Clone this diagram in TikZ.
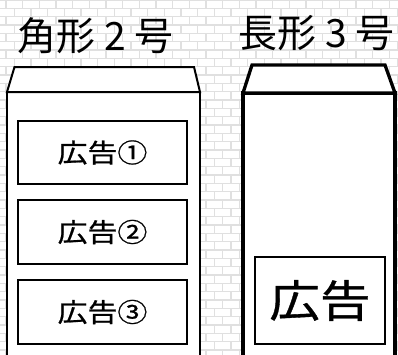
\documentclass[tikz,border=0pt]{standalone}
\usepackage{fontspec}
\newfontfamily\jpfont{Noto Sans CJK JP}
\newfontfamily\jpmed{Noto Sans CJK JP}[FakeBold=0.8,FakeStretch=1.15]
\begin{document}
\begin{tikzpicture}[x=1pt,y=-1pt,
  brick/.style={draw=black!12,line width=1.3pt},
  envA/.style={draw=black,fill=white,line width=2pt,line join=miter},
  envB/.style={draw=black,fill=white,line width=3.3pt,line join=miter},
  adbox/.style={draw=black,fill=white,line width=1.5pt},
  adboxB/.style={draw=black,fill=white,line width=2pt},
  title/.style={font=\jpfont\fontsize{39}{43}\selectfont,inner sep=0pt},
  adlabel/.style={font=\jpmed\fontsize{26}{30}\selectfont,inner sep=0pt},
  adlabelB/.style={font=\jpmed\fontsize{44}{48}\selectfont,inner sep=0pt}]
\useasboundingbox (0,0) rectangle (398,354);
\fill[white] (0,0) rectangle (398,354);
% brick background
\begin{scope}
\clip (0,0) rectangle (398,354);
\foreach \r in {0,...,43} \draw[brick] (0,{\r*8.333}) -- (398,{\r*8.333});
\foreach \r in {0,2,...,42} \foreach \c in {-1,...,24}
  \draw[brick] ({6+\c*16.667},{\r*8.333}) -- ++(0,8.333);
\foreach \r in {1,3,...,43} \foreach \c in {-1,...,24}
  \draw[brick] ({14.33+\c*16.667},{\r*8.333}) -- ++(0,8.333);
\end{scope}
% left envelope
\fill[white] (7,92) rectangle (200,360);
\draw[envA] (7,360) -- (7,92) -- (200,92) -- (200,360);
\draw[envA] (7,92) -- (14.5,67) -- (194,67) -- (200,92) -- cycle;
% right envelope
\fill[white] (243,93) rectangle (395,360);
\draw[envB] (243,360) -- (243,93) -- (395,93) -- (395,360);
\draw[envB] (243,93) -- (252,65) -- (385,65) -- (395,93) -- cycle;
% titles
\node[title] (t1) at (95.5,36) {角形 2 号};
\node[title] (t2) at (316.5,33) {長形 3 号};
% ads
\node[adbox,minimum width=169pt,minimum height=63pt] (a1) at (102.5,152.5) {};
\node[adbox,minimum width=169pt,minimum height=64pt] (a2) at (102.5,232) {};
\node[adbox,minimum width=169pt,minimum height=64pt] (a3) at (102.5,312) {};
\node[adlabel] (l1) at (a1) {広告①};
\node[adlabel] (l2) at (a2) {広告②};
\node[adlabel] (l3) at (a3) {広告③};
\node[adboxB,minimum width=130pt,minimum height=87pt] (b1) at (320,300.5) {};
\node[adlabelB] (lb) at (b1) {広告};
\end{tikzpicture}
\end{document}
